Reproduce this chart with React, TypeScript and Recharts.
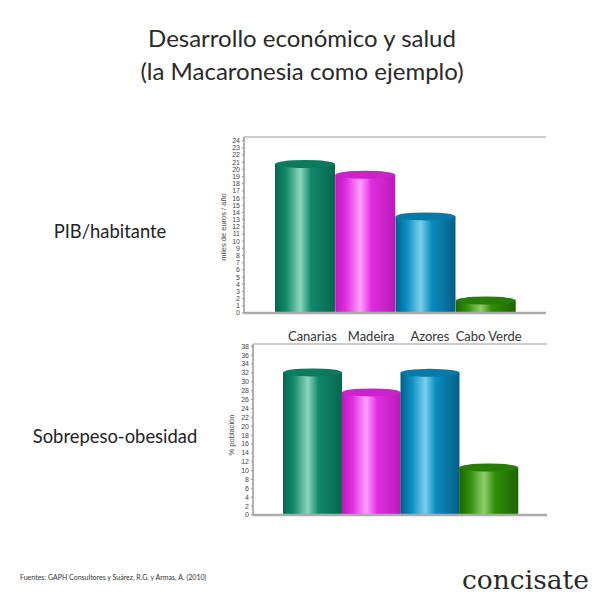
import React from 'react';
import { BarChart, Bar, XAxis, YAxis, Cell, ReferenceLine } from 'recharts';

const CATEGORIES = ['Canarias', 'Madeira', 'Azores', 'Cabo Verde'];
const PIB = [21.3, 19.8, 14.0, 2.3];
const OBESIDAD = [33.0, 28.5, 32.9, 11.6];
const PIB_TICKS = [0, 1, 2, 3, 4, 5, 6, 7, 8, 9, 10, 11, 12, 13, 14, 15, 16, 17, 18, 19, 20, 21, 22, 23, 24];
const OB_TICKS = [0, 2, 4, 6, 8, 10, 12, 14, 16, 18, 20, 22, 24, 26, 28, 30, 32, 34, 36, 38];
const PIB_MAX = 24.5;
const OB_MAX = 38.5;

const COLORS = [
  { dark: '#08664f', base: '#10896a', light: '#8ed5bc', cap: '#0d7a5e' },
  { dark: '#b81ab8', base: '#e02ee0', light: '#ff9eff', cap: '#cc22cc' },
  { dark: '#065f85', base: '#0a8cbf', light: '#7acfee', cap: '#087aa8' },
  { dark: '#1f6404', base: '#2f8e0a', light: '#8fcf6c', cap: '#287c08' },
];

const pibData = CATEGORIES.map((name, i) => ({ name, value: PIB[i] }));
const obData = CATEGORIES.map((name, i) => ({ name, value: OBESIDAD[i] }));

const Gradients = ({ prefix }: { prefix: string }) => (
  <defs>
    {COLORS.map((c, i) => (
      <linearGradient key={i} id={`${prefix}${i}`} x1="0" y1="0" x2="1" y2="0">
        <stop offset="0%" stopColor={c.dark} />
        <stop offset="18%" stopColor={c.base} />
        <stop offset="42%" stopColor={c.light} />
        <stop offset="60%" stopColor={c.base} />
        <stop offset="100%" stopColor={c.dark} />
      </linearGradient>
    ))}
  </defs>
);

const Cylinder = (props: any) => {
  const { x, y, width, height, fill, payload } = props;
  if (!width || height == null) return null;
  const idx = CATEGORIES.indexOf(payload?.name);
  const c = COLORS[idx >= 0 ? idx : 0];
  const ry = 4;
  const h = Math.max(height, ry * 2);
  return (
    <g>
      <path
        d={`M${x},${y + ry} L${x},${y + h - 2} Q${x},${y + h} ${x + 2},${y + h} L${x + width - 2},${y + h} Q${x + width},${y + h} ${x + width},${y + h - 2} L${x + width},${y + ry} Z`}
        fill={fill}
      />
      <ellipse cx={x + width / 2} cy={y + ry} rx={width / 2} ry={ry} fill={c.cap} />
    </g>
  );
};

const tickStyle = { fontSize: 7, fill: '#444', fontFamily: 'Liberation Sans, Arial, sans-serif' };

export default function App() {
  return (
    <div style={{ position: 'fixed', left: 0, top: 0, width: 604, height: 604, background: '#fff', overflow: 'hidden' }}>
      <svg width={604} height={604} style={{ position: 'absolute', left: 0, top: 0 }}>
        <text x={302} y={47} textAnchor="middle" fontFamily="Lato, sans-serif" fontSize={24} fill="#2a2a2a">
          Desarrollo económico y salud
        </text>
        <text x={302} y={80} textAnchor="middle" fontFamily="Lato, sans-serif" fontSize={24} fill="#2a2a2a">
          (la Macaronesia como ejemplo)
        </text>
        <text x={110} y={238} textAnchor="middle" fontFamily="Lato, sans-serif" fontSize={18.4} fill="#222">
          PIB/habitante
        </text>
        <text x={115} y={443} textAnchor="middle" fontFamily="Lato, sans-serif" fontSize={18.4} fill="#222">
          Sobrepeso-obesidad
        </text>
        <text
          x={0}
          y={0}
          transform="translate(226,227) rotate(-90)"
          textAnchor="middle"
          fontFamily="Liberation Sans, Arial, sans-serif"
          fontSize={7.5}
          fill="#444"
        >
          miles de euros / año
        </text>
        <text
          x={0}
          y={0}
          transform="translate(234,435) rotate(-90)"
          textAnchor="middle"
          fontFamily="Liberation Sans, Arial, sans-serif"
          fontSize={7.5}
          fill="#444"
        >
          % población
        </text>
        <text x={20} y={580} fontFamily="Lato, sans-serif" fontSize={7} fill="#333">
          Fuentes: GAPH Consultores y Suárez, R.G. y Armas, A. (2010)
        </text>
        <text x={462} y={589} fontFamily="DejaVu Serif, serif" fontSize={26.5} fill="#2a2a2a">
          concisate
        </text>
      </svg>

      <div style={{ position: 'absolute', left: 0, top: 130 }}>
        <BarChart
          width={604}
          height={190}
          data={pibData}
          margin={{ top: 7, right: 58, bottom: 7, left: 214 }}
          barCategoryGap={0}
        >
          <Gradients prefix="gp" />
          <XAxis dataKey="name" hide padding={{ left: 31, right: 30 }} />
          <YAxis
            width={30}
            domain={[0, PIB_MAX]}
            ticks={PIB_TICKS}
            interval={0}
            tick={tickStyle}
            tickSize={2}
            tickLine={{ stroke: '#999' }}
            axisLine={{ stroke: '#999', strokeWidth: 1.5 }}
            allowDataOverflow
          />
          <ReferenceLine y={PIB_MAX} stroke="#bbb" strokeWidth={1.5} ifOverflow="extendDomain" />
          <Bar dataKey="value" isAnimationActive={false} shape={<Cylinder />}>
            {pibData.map((d, i) => (
              <Cell key={d.name} fill={`url(#gp${i})`} />
            ))}
          </Bar>
          <ReferenceLine y={0} stroke="#aaa" strokeWidth={2.5} />
        </BarChart>
      </div>

      <div style={{ position: 'absolute', left: 0, top: 310 }}>
        <BarChart
          width={604}
          height={210}
          data={obData}
          margin={{ top: 14, right: 57, bottom: 5, left: 223 }}
          barCategoryGap={0}
        >
          <Gradients prefix="go" />
          <XAxis
            dataKey="name"
            orientation="top"
            height={20}
            padding={{ left: 30, right: 29 }}
            tickLine={false}
            tickSize={0}
            axisLine={{ stroke: '#bbb', strokeWidth: 1.5 }}
            tick={{ fontSize: 13, fill: '#333', fontFamily: 'Lato, sans-serif' }}
            tickMargin={3}
            interval={0}
          />
          <YAxis
            width={30}
            domain={[0, OB_MAX]}
            ticks={OB_TICKS}
            interval={0}
            tick={tickStyle}
            tickSize={2}
            tickLine={{ stroke: '#999' }}
            axisLine={{ stroke: '#999', strokeWidth: 1.5 }}
            allowDataOverflow
          />
          <Bar dataKey="value" isAnimationActive={false} shape={<Cylinder />}>
            {obData.map((d, i) => (
              <Cell key={d.name} fill={`url(#go${i})`} />
            ))}
          </Bar>
          <ReferenceLine y={0} stroke="#aaa" strokeWidth={2.5} />
        </BarChart>
      </div>
    </div>
  );
}
